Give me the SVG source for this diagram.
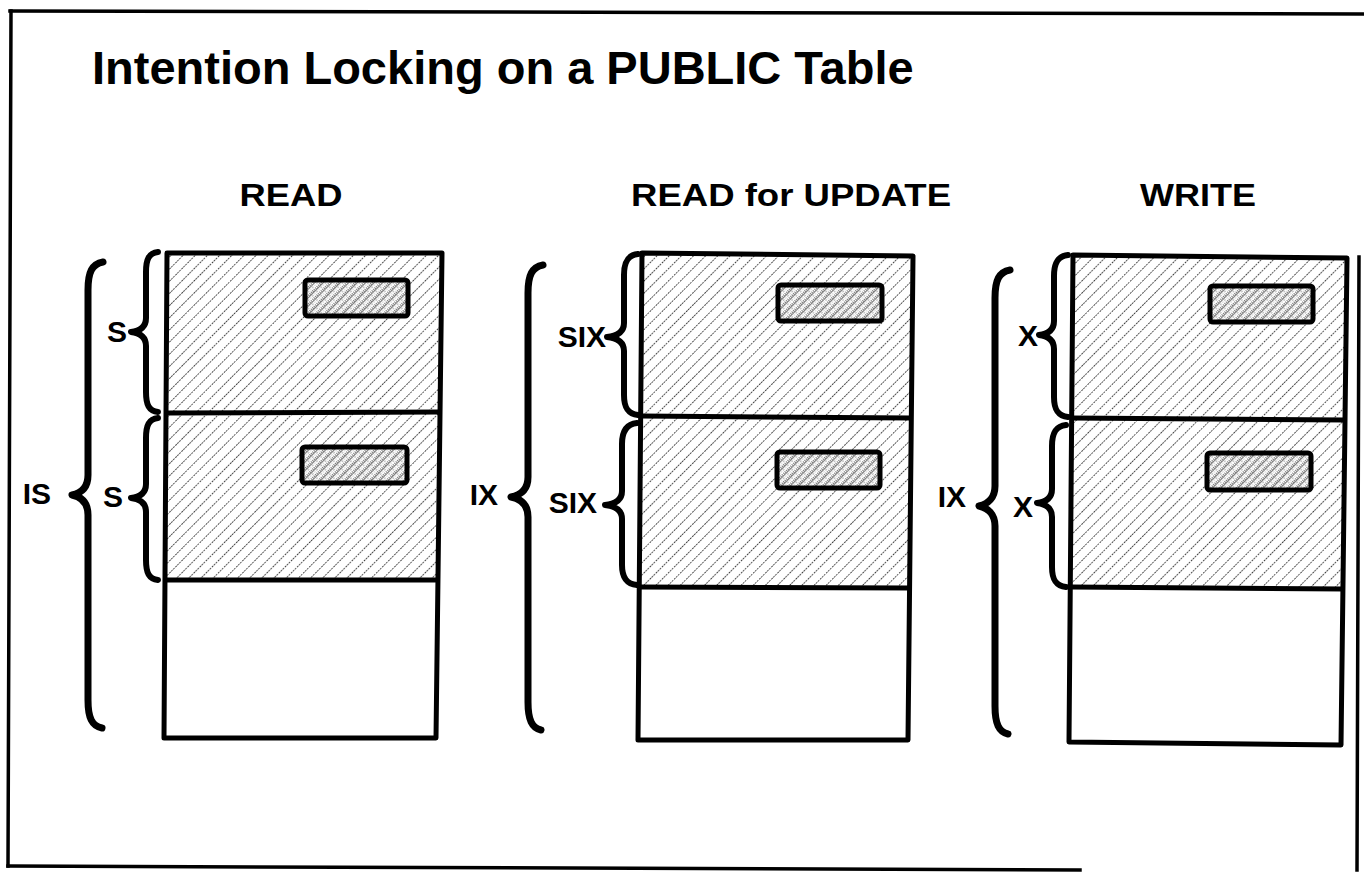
<svg xmlns="http://www.w3.org/2000/svg" width="1364" height="873" viewBox="0 0 1364 873">
<defs>
<pattern id="hatch" patternUnits="userSpaceOnUse" width="8.6" height="8.6" patternTransform="rotate(45)">
<line x1="0" y1="0" x2="0" y2="8.6" stroke="#000" stroke-width="1.4" stroke-dasharray="2 1"/>
</pattern>
<pattern id="dense" patternUnits="userSpaceOnUse" width="6" height="6" patternTransform="rotate(45)">
<rect width="6" height="6" fill="#fff"/>
<line x1="1" y1="0" x2="1" y2="6" stroke="#000" stroke-width="1" stroke-dasharray="1 1"/>
<line x1="2.5" y1="0.5" x2="2.5" y2="6.5" stroke="#000" stroke-width="1" stroke-dasharray="1 1"/>
<line x1="4.2" y1="0" x2="4.2" y2="6" stroke="#888" stroke-width="0.8" stroke-dasharray="1 1.5"/>
</pattern>
</defs>
<style>
.frame{fill:none;stroke:#000;stroke-width:3.5;stroke-linecap:square}
.tbl{fill:none;stroke:#000;stroke-width:5;stroke-linejoin:round}
.div{stroke:#000;stroke-width:5;fill:none}
.hatch{fill:url(#hatch);stroke:none}
.rec{fill:url(#dense);stroke:#000;stroke-width:5}
.brace{fill:none;stroke:#000;stroke-width:6;stroke-linecap:round;stroke-linejoin:round}
.big{stroke-width:7}
.title{font-family:"Liberation Sans",Arial,Helvetica,sans-serif;font-weight:bold;font-size:47px;fill:#000}
.head{font-family:"Liberation Sans",Arial,Helvetica,sans-serif;font-weight:bold;font-size:32px;fill:#000;text-anchor:middle}
.lab{font-family:"Liberation Sans",Arial,Helvetica,sans-serif;font-weight:bold;font-size:30px;fill:#000;text-anchor:end}
</style>
<rect width="1364" height="873" fill="#fff"/>
<g id="frame">
<path class="frame" d="M10,11 L1364,14"/>
<path class="frame" d="M11,11 L8,866"/>
<path class="frame" d="M8,866 L1080,870"/>
<path class="frame" d="M1359,257 L1357,870"/>
</g>
<g id="title"><text class="title" x="92" y="84">Intention Locking on a PUBLIC Table</text></g>
<g id="headers">
<text class="head" x="291" y="206" textLength="103" lengthAdjust="spacingAndGlyphs">READ</text>
<text class="head" x="791" y="206" textLength="320" lengthAdjust="spacingAndGlyphs">READ for UPDATE</text>
<text class="head" x="1198" y="206" textLength="116" lengthAdjust="spacingAndGlyphs">WRITE</text>
</g>
<g id="table-read">
<polygon class="hatch" points="167,253 442,253 439,580 165,580"/>
<polygon class="tbl" points="167,253 442,253 436,738 164,738"/>
<path class="div" d="M166,413 L441,412 M165,580 L439,580"/>
<rect class="rec" x="305" y="280" width="103" height="36" rx="3"/>
<rect class="rec" x="302" y="447" width="105" height="36" rx="3"/>
</g>
<g id="table-readupdate">
<polygon class="hatch" points="642,253 913,256 910,587 640,587"/>
<polygon class="tbl" points="642,253 913,256 908,740 638,740"/>
<path class="div" d="M641,416 L912,418 M640,587 L910,588"/>
<rect class="rec" x="778" y="285" width="104" height="36" rx="3"/>
<rect class="rec" x="777" y="452" width="103" height="36" rx="3"/>
</g>
<g id="table-write">
<polygon class="hatch" points="1073,255 1347,258 1344,589 1071,587"/>
<polygon class="tbl" points="1073,255 1347,258 1341,745 1069,742"/>
<path class="div" d="M1072,418 L1346,420 M1071,587 L1344,589"/>
<rect class="rec" x="1210" y="286" width="103" height="36" rx="3"/>
<rect class="rec" x="1207" y="453" width="104" height="37" rx="3"/>
</g>
<g id="braces">
<path class="brace" d="M158,252 C149,253 146,259 146,272 L146,318 C146,327 140,331 131,332 C140,333 146,337 146,346 L146,392 C146,405 149,411 158,412"/>
<path class="brace" d="M158,418 C149,419 146,425 146,438 L146,484 C146,493 140,497 131,498 C140,499 146,503 146,512 L146,560 C146,573 149,579 158,580"/>
<path class="brace big" d="M103,262 C92,264 88,272 88,290 L88,475 C88,487 82,493 72,495 C82,497 88,503 88,515 L88,700 C88,718 92,726 102,728"/>
<path class="brace" d="M638,254 C628,255 624,262 624,275 L624,323 C624,332 617,336 607,337 C617,338 624,342 624,351 L624,395 C624,408 628,414 638,415"/>
<path class="brace" d="M637,423 C627,424 622,431 622,444 L622,491 C622,500 615,504 605,505 C615,506 622,510 622,519 L622,565 C622,578 627,584 637,585"/>
<path class="brace big" d="M543,265 C532,267 528,275 528,293 L528,477 C528,489 521,495 511,497 C521,499 528,505 528,517 L528,702 C528,720 532,728 541,730"/>
<path class="brace" d="M1068,255 C1058,256 1054,263 1054,276 L1054,321 C1054,330 1048,334 1039,335 C1048,336 1054,340 1054,349 L1054,397 C1054,410 1058,416 1068,417"/>
<path class="brace" d="M1066,425 C1056,426 1052,433 1052,446 L1052,489 C1052,498 1046,502 1037,503 C1046,504 1052,508 1052,517 L1052,567 C1052,580 1056,586 1066,587"/>
<path class="brace big" d="M1010,270 C999,272 995,280 995,298 L995,486 C995,498 988,504 979,506 C988,508 995,514 995,526 L995,706 C995,724 999,732 1008,734"/>
</g>
<g id="labels">
<text class="lab" x="127" y="342">S</text>
<text class="lab" x="123" y="507">S</text>
<text class="lab" x="51" y="504">IS</text>
<text class="lab" x="606" y="347">SIX</text>
<text class="lab" x="597" y="513">SIX</text>
<text class="lab" x="498" y="505">IX</text>
<text class="lab" x="1038" y="346">X</text>
<text class="lab" x="1033" y="517">X</text>
<text class="lab" x="966" y="507">IX</text>
</g>
</svg>
